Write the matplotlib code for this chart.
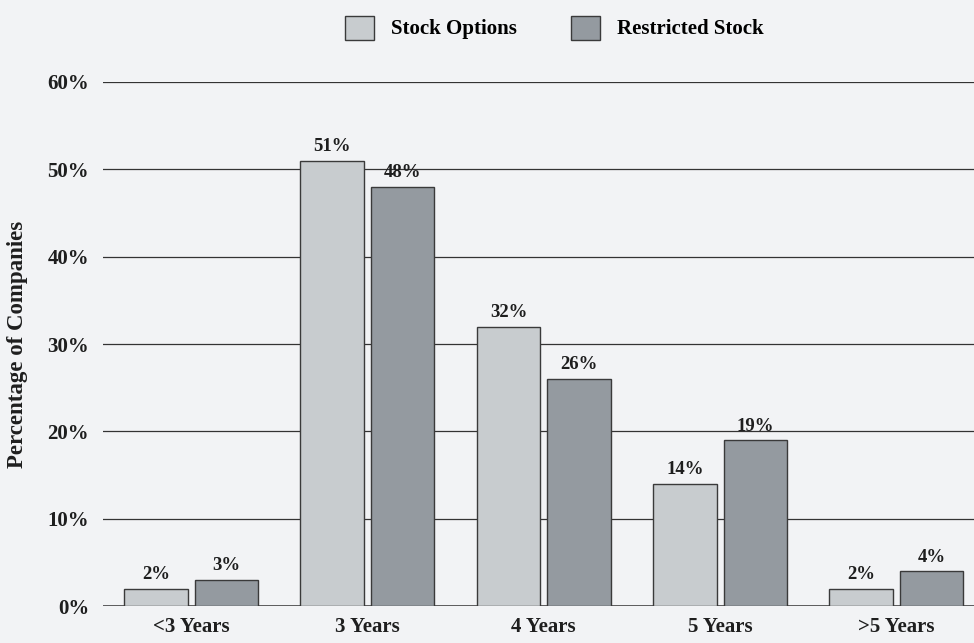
"""
plot.py - vesting period bar chart
"""

import numpy as np
import matplotlib.pyplot as plt
from matplotlib.patches import Patch

#============================================
# DATA
#============================================

categories = ["<3 Years", "3 Years", "4 Years", "5 Years", ">5 Years"]
stock_options = [2, 51, 32, 14, 2]
restricted_stock = [3, 48, 26, 19, 4]
y_ticks = [0, 10, 20, 30, 40, 50, 60]

#============================================
# STYLE
#============================================

BG = "#f2f3f5"
LIGHT = "#c8cccf"
DARK = "#949aa0"
EDGE = "#3a3a3a"
TEXT = "#1e1e1e"
plt.rcParams['font.family'] = ['Liberation Serif', 'DejaVu Serif']
plt.rcParams['font.weight'] = 'bold'

#============================================
# PLOT
#============================================

fig = plt.figure(figsize=(9.74, 6.43), dpi=100, facecolor=BG)
ax = fig.add_axes([0.1057, 0.0575, 0.8943, 0.815])
ax.set_facecolor(BG)

x = np.arange(len(categories))
w = 0.36
b1 = ax.bar(x - 0.2, stock_options, w, color=LIGHT, edgecolor=EDGE, linewidth=1, zorder=3)
b2 = ax.bar(x + 0.2, restricted_stock, w, color=DARK, edgecolor=EDGE, linewidth=1, zorder=3)

# value labels above each bar
for bars, vals in [(b1, stock_options), (b2, restricted_stock)]:
    for rect, v in zip(bars, vals):
        ax.annotate(f"{v}%", (rect.get_x() + rect.get_width() / 2, v),
                    xytext=(0, 4), textcoords='offset points',
                    ha='center', va='bottom', fontsize=13.5, fontweight='bold', color=TEXT)

# horizontal grid lines
for t in y_ticks:
    ax.axhline(t, color="#333333", linewidth=1.1 if t == 0 else 0.9, zorder=1)

ax.set_xlim(-0.5, 4.44)
ax.set_ylim(0, 60)
ax.set_yticks(y_ticks)
ax.set_yticklabels([f"{t}%" for t in y_ticks], fontsize=15, fontweight='bold', color=TEXT)
ax.set_xticks(x)
ax.set_xticklabels(categories, fontsize=15, fontweight='bold', color=TEXT)
ax.tick_params(axis='y', length=0, pad=10)
ax.tick_params(axis='x', length=0, pad=8)
ax.set_ylabel("Percentage of Companies", fontsize=16.5, fontweight='bold', color=TEXT,
              va='center')
ax.yaxis.set_label_coords(-0.0976, 0.5)
for s in ax.spines.values():
    s.set_visible(False)

# legend at the top
handles = [Patch(facecolor=LIGHT, edgecolor=EDGE, label="Stock Options"),
           Patch(facecolor=DARK, edgecolor=EDGE, label="Restricted Stock")]
fig.legend(handles=handles, loc='upper center', bbox_to_anchor=(0.569, 1.005), ncol=2,
           frameon=False, fontsize=15, handlelength=1.4, handleheight=1.4,
           columnspacing=2.6, handletextpad=0.8)

plt.savefig("out.png", dpi=100, facecolor=BG)
